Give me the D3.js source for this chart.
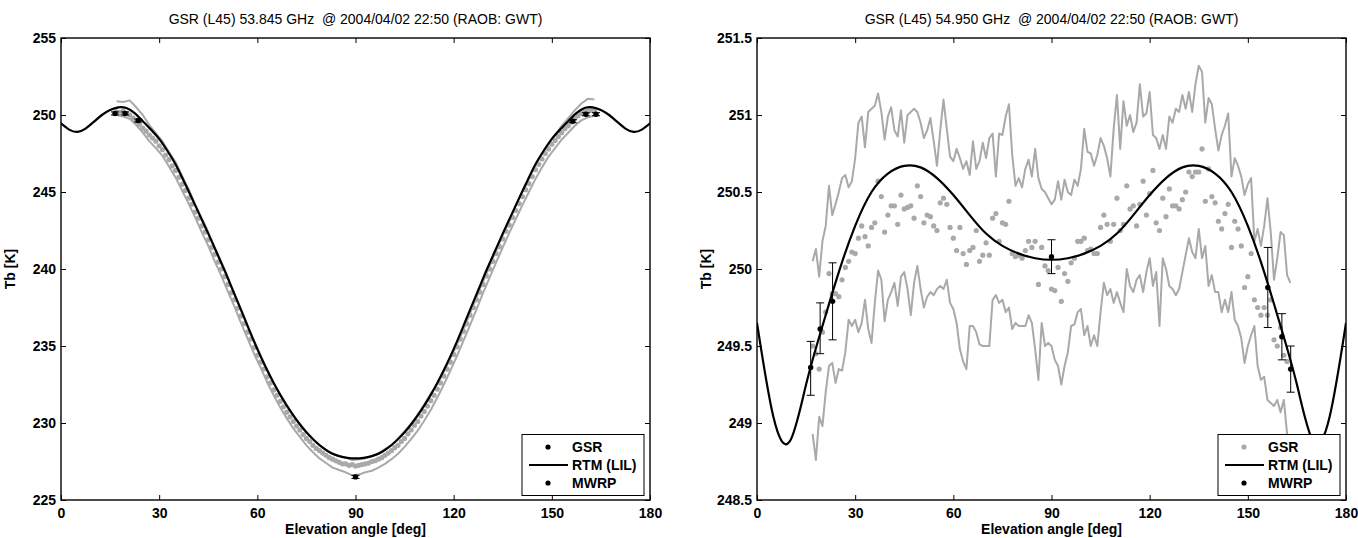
<!DOCTYPE html>
<html>
<head>
<meta charset="utf-8">
<script src="https://cdn.jsdelivr.net/npm/d3@7"></script>
<style>
  body { margin: 0; background: #fff; }
  svg text { font-family: "Liberation Sans", Arial, Helvetica, sans-serif; }
</style>
</head>
<body>
<svg id="fig" width="1358" height="538"></svg>
<script>
// ---- data ----
const leftTitle = "GSR (L45) 53.845 GHz  @ 2004/04/02 22:50 (RAOB: GWT)";
const rightTitle = "GSR (L45) 54.950 GHz  @ 2004/04/02 22:50 (RAOB: GWT)";

const xTicks = [0, 30, 60, 90, 120, 150, 180];
const leftYTicks = [225, 230, 235, 240, 245, 250, 255];
const rightYTicks = [248.5, 249, 249.5, 250, 250.5, 251, 251.5];

const gsrAngles = d3.range(17, 164);           // 1 deg scan steps
const leftEnvAngles = d3.range(17, 164, 2);
const leftRtmAngles = d3.range(0, 180.1, 2.5);
const rightRtmAngles = d3.range(0, 180.1, 5);

// left panel, 53.845 GHz
const leftRtm = [249.46, 249.05, 248.9, 249.12, 249.55, 250.0, 250.32, 250.5, 250.45, 250.12,
  249.6, 249.05, 248.45, 247.68, 246.8, 245.72, 244.6, 243.45, 242.3, 241.1,
  239.9, 238.62, 237.35, 236.05, 234.8, 233.65, 232.6, 231.65, 230.8, 230.05,
  229.4, 228.85, 228.4, 228.05, 227.85, 227.74, 227.7, 227.74, 227.85, 228.05,
  228.4, 228.85, 229.4, 230.05, 230.8, 231.65, 232.6, 233.65, 234.8, 236.05,
  237.35, 238.62, 239.9, 241.1, 242.3, 243.45, 244.6, 245.72, 246.8, 247.68,
  248.45, 249.05, 249.6, 250.12, 250.45, 250.5, 250.32, 250.0, 249.55, 249.12,
  248.9, 249.05, 249.46];

const leftGsr = [250.2, 250.15, 250.25, 250.1, 250.0, 249.8, 249.6, 249.4, 249.15, 248.95, 248.7, 248.5, 248.3, 248.0,
  247.75, 247.4, 247.1, 246.7, 246.4, 245.95, 245.5, 245.1, 244.6, 244.2, 243.7, 243.3, 242.8, 242.4, 241.9,
  241.4, 240.95, 240.45, 240.0, 239.5, 239.0, 238.45, 238.0, 237.45, 236.95, 236.45, 235.9, 235.45, 234.9, 234.4,
  233.95, 233.5, 233.0, 232.6, 232.15, 231.8, 231.4, 231.05, 230.7,
  230.4, 230.1, 229.8, 229.55, 229.25, 229.0, 228.8, 228.55, 228.35, 228.2, 228.05,
  227.9, 227.75, 227.65, 227.55, 227.45, 227.35, 227.35, 227.25, 227.3, 227.2,
  227.25, 227.3, 227.35, 227.4, 227.5, 227.55, 227.65, 227.75, 227.9,
  228.05, 228.2, 228.4, 228.55, 228.8, 229.0, 229.3, 229.55, 229.85, 230.1, 230.45,
  230.75, 231.1, 231.45, 231.8, 232.2, 232.6, 233.05, 233.5, 233.95, 234.45, 234.95, 235.45, 235.95, 236.45, 237.0,
  237.5, 238.0, 238.5, 239.0, 239.55, 240.0, 240.5, 241.0, 241.45, 241.95, 242.45, 242.85, 243.35, 243.8, 244.25,
  244.7, 245.15, 245.55, 246.0, 246.45, 246.8, 247.15, 247.5, 247.8, 248.1, 248.35, 248.6, 248.85, 249.1, 249.3,
  249.55, 249.75, 249.95, 250.1, 250.2, 250.25, 250.3, 250.25];

const leftUpper = [250.9, 250.85, 250.95, 250.5, 250.0, 249.35, 248.8, 248.3, 247.6, 246.95,
  246.05, 245.2, 244.2, 243.3, 242.4, 241.4, 240.45, 239.45, 238.4, 237.4,
  236.35, 235.35, 234.4, 233.45, 232.6, 231.85, 231.15, 230.5, 229.95, 229.4,
  228.95, 228.55, 228.25, 228.0, 227.85, 227.75, 227.6,
  227.65, 227.7, 227.85, 228.05, 228.3, 228.55, 229.0, 229.45, 229.95, 230.55,
  231.2, 231.9, 232.55, 233.35, 234.2, 235.1, 236.1, 237.1, 238.15, 239.2,
  240.2, 241.2, 242.2, 243.1, 244.1, 245.0, 245.85, 246.7, 247.45, 248.1,
  248.7, 249.3, 249.8, 250.3, 250.75, 251.05, 251.0];

const leftLower = [250.0, 249.9, 249.75, 249.35, 248.85, 248.3, 247.85, 247.35, 246.65, 245.95,
  245.1, 244.25, 243.35, 242.4, 241.5, 240.5, 239.55, 238.55, 237.55, 236.5,
  235.5, 234.5, 233.6, 232.65, 231.8, 231.0, 230.3, 229.65, 229.1, 228.55,
  228.1, 227.7, 227.4, 227.1, 226.95, 226.8, 226.6,
  226.65, 226.8, 226.9, 227.1, 227.35, 227.65, 228.0, 228.45, 228.95, 229.5,
  230.15, 230.85, 231.65, 232.5, 233.4, 234.35, 235.35, 236.35, 237.4, 238.45,
  239.45, 240.45, 241.4, 242.35, 243.25, 244.15, 245.0, 245.85, 246.6, 247.3,
  247.85, 248.4, 248.85, 249.3, 249.65, 249.85, 249.95];

const leftMwrpAngles = [16.5, 19.6, 23.6, 90, 156.4, 160.4, 163.5];
const leftMwrp = [250.1, 250.1, 249.64, 226.5, 249.6, 250.05, 250.05];
const leftMwrpLo = [250.0, 250.0, 249.54, 226.4, 249.5, 249.95, 249.95];
const leftMwrpHi = [250.2, 250.2, 249.74, 226.6, 249.7, 250.15, 250.15];

// right panel, 54.950 GHz
const rightRtm = [249.65, 249.04, 248.88, 249.25, 249.63, 249.98, 250.28, 250.5, 250.62, 250.67,
  250.66, 250.59, 250.48, 250.35, 250.23, 250.15, 250.1, 250.07, 250.06, 250.07,
  250.1, 250.15, 250.23, 250.35, 250.48, 250.59, 250.66, 250.67, 250.62, 250.5,
  250.28, 249.98, 249.63, 249.25, 248.88, 249.04, 249.65];

const rightUpper = [250.05, 250.13, 249.95, 250.18, 250.28, 250.54, 250.35, 250.42, 250.5, 250.59,
  250.61, 250.53, 250.57, 250.72, 250.95, 250.99, 250.79, 251.02, 251.04, 251.06,
  251.14, 251.02, 250.84, 250.99, 251.05, 250.9, 250.86, 251.03, 250.82, 251.0,
  251.02, 251.04, 251.02, 250.95, 250.85, 250.9, 250.98, 250.83, 250.67, 250.9,
  251.1, 250.91, 250.73, 250.7, 250.78, 250.72, 250.65, 250.7, 250.61, 250.83,
  250.65, 250.7, 250.82, 250.72, 250.85, 250.88, 250.6, 250.88, 250.87, 250.99,
  251.07, 250.74, 250.54, 250.59, 250.53, 250.65, 250.71, 250.6, 250.78, 250.59,
  250.52, 250.5, 250.46, 250.42, 250.45, 250.57, 250.45, 250.58, 250.5, 250.48,
  250.58, 250.54, 250.65, 250.91, 250.76, 250.75, 250.67, 250.74, 250.85, 250.8,
  250.72, 250.6, 250.91, 251.13, 250.78, 251.09, 250.93, 251.0, 250.89, 250.95,
  251.2, 250.99, 251.01, 251.15, 250.87, 250.85, 250.78, 250.87, 250.78, 250.99,
  250.95, 251.04, 251.02, 251.13, 251.04, 251.15, 251.02, 251.2, 251.32, 251.28,
  250.95, 251.11, 251.07, 250.91, 250.77, 250.87, 250.93, 251.01, 250.6, 250.72,
  250.67, 250.6, 250.48, 250.55, 250.59, 250.18, 250.26, 250.15, 250.28, 250.46,
  250.24, 249.93, 250.07, 250.24, 250.22, 249.96, 249.91];

const rightLower = [248.93, 248.76, 249.04, 248.98, 249.2, 249.37, 249.39, 249.26, 249.35, 249.34,
  249.46, 249.67, 249.63, 249.67, 249.59, 249.65, 249.8, 249.61, 249.52, 249.78,
  249.99, 249.93, 249.66, 249.8, 249.85, 249.91, 249.76, 249.95, 249.98, 249.87,
  249.7, 249.91, 250.02, 249.87, 249.75, 249.82, 249.85, 249.83, 249.87, 249.89,
  249.87, 249.93, 249.78, 249.74, 249.65, 249.48, 249.4, 249.35, 249.63, 249.63,
  249.59, 249.51, 249.5, 249.5, 249.5, 249.8, 249.83, 249.78, 249.8, 249.72,
  249.75, 249.61, 249.65, 249.63, 249.63, 249.63, 249.7, 249.65, 249.48, 249.28,
  249.65, 249.5, 249.52, 249.5, 249.41, 249.37, 249.25, 249.37, 249.46, 249.63,
  249.64, 249.72, 249.74, 249.57, 249.63, 249.5, 249.57, 249.5, 249.72, 249.91,
  249.83, 249.87, 249.78, 249.85, 249.78, 249.72, 250.0, 249.89, 249.85, 249.93,
  249.96, 249.85, 249.98, 250.07, 249.89, 249.98, 249.63, 250.07, 250.0, 249.89,
  249.87, 249.83, 249.87, 249.98, 250.09, 250.2, 250.11, 250.07, 250.26, 250.07,
  250.15, 249.89, 249.96, 249.85, 249.85, 249.72, 249.8, 249.72, 249.85, 249.67,
  249.63, 249.55, 249.39, 249.5, 249.57, 249.63, 249.37, 249.28, 249.3, 249.15,
  249.13, 249.11, 249.15, 249.07, 249.15, 248.93, 248.75];

const rightGsr = [249.5, 249.45, 249.35, 249.59, 249.72, 249.97, 249.84, 249.84, 249.82, 249.93,
  250.01, 250.05, 250.11, 250.1, 250.2, 250.28, 250.21, 250.15, 250.27, 250.3,
  250.57, 250.47, 250.24, 250.35, 250.41, 250.41, 250.29, 250.48, 250.39, 250.4,
  250.41, 250.33, 250.54, 250.47, 250.3, 250.35, 250.34, 250.28, 250.25, 250.43,
  250.46, 250.42, 250.27, 250.2, 250.12, 250.27, 250.1, 250.03, 250.12, 250.14,
  250.25, 250.05, 250.09, 250.17, 250.09, 250.33, 250.36, 250.18, 250.3, 250.29,
  250.44, 250.1, 250.08, 250.09, 250.07, 250.12, 250.18, 250.14, 250.18, 249.9,
  250.14, 250.02, 249.99, 249.87, 249.86, 250.01, 249.79, 249.97, 249.92, 250.04,
  250.07, 250.18, 250.18, 250.2, 250.12, 250.13, 250.1, 250.1, 250.27, 250.35,
  250.29, 250.18, 250.29, 250.46, 250.25, 250.29, 250.54, 250.39, 250.41, 250.28,
  250.42, 250.57, 250.35, 250.49, 250.64, 250.3, 250.25, 250.46, 250.34, 250.52,
  250.41, 250.41, 250.39, 250.45, 250.5, 250.63, 250.6, 250.63, 250.63, 250.78,
  250.44, 250.65, 250.47, 250.43, 250.31, 250.26, 250.36, 250.42, 250.14, 250.31,
  250.26, 250.15, 249.88, 249.95, 250.1, 249.8, 249.75, 249.7, 249.75, 249.7,
  249.8, 249.54, 249.5, 249.62, 249.44, 249.4, 249.35];

const rightMwrpAngles = [16.4, 19.3, 23.1, 90, 156.1, 160.4, 163.1];
const rightMwrp = [249.36, 249.61, 249.79, 250.08, 249.88, 249.56, 249.35];
const rightMwrpLo = [249.18, 249.45, 249.54, 249.97, 249.62, 249.41, 249.2];
const rightMwrpHi = [249.53, 249.78, 250.04, 250.19, 250.14, 249.71, 249.5];

// ---- drawing ----
const GRAY = "#a9a9a9";
const TOP = 38, BOTTOM = 500;
const svg = d3.select("#fig");

const panels = [
  { id: "l", left: 61, right: 650, title: leftTitle, yDomain: [225, 255], yTicks: leftYTicks,
    rtmAngles: leftRtmAngles, rtm: leftRtm, envAngles: leftEnvAngles, upper: leftUpper, lower: leftLower,
    gsr: leftGsr, mwrpAngles: leftMwrpAngles, mwrp: leftMwrp, lo: leftMwrpLo, hi: leftMwrpHi,
    gsrKey: "#000" },
  { id: "r", left: 757, right: 1346, title: rightTitle, yDomain: [248.5, 251.5], yTicks: rightYTicks,
    rtmAngles: rightRtmAngles, rtm: rightRtm, envAngles: gsrAngles, upper: rightUpper, lower: rightLower,
    gsr: rightGsr, mwrpAngles: rightMwrpAngles, mwrp: rightMwrp, lo: rightMwrpLo, hi: rightMwrpHi,
    gsrKey: GRAY }
];

const styleTicks = (sel) => {
  sel.select(".domain").remove();
  sel.selectAll(".tick line").attr("stroke", "#000").attr("stroke-width", 1);
  sel.selectAll(".tick text")
      .attr("fill", "#000")
      .attr("font-size", 14)
      .attr("font-weight", "bold")
      .attr("font-family", null);
};

const drawPanel = (p) => {
  const x = d3.scaleLinear().domain([0, 180]).range([p.left, p.right]),
        y = d3.scaleLinear().domain(p.yDomain).range([BOTTOM, TOP]);

  const g = svg.append("g").attr("class", "panel-" + p.id);

  g.append("clipPath")
      .attr("id", "clip-" + p.id)
    .append("rect")
      .attr("x", p.left).attr("y", TOP)
      .attr("width", p.right - p.left).attr("height", BOTTOM - TOP);

  const plot = g.append("g").attr("clip-path", `url(#clip-${p.id})`);

  const jagged = d3.line().x((d) => x(d[0])).y((d) => y(d[1])),
        smooth = d3.line().x((d) => x(d[0])).y((d) => y(d[1])).curve(d3.curveNatural);

  // GSR envelope lines
  [p.upper, p.lower].forEach((s) => {
    plot.append("path")
        .datum(d3.zip(p.envAngles, s))
        .attr("d", jagged)
        .attr("fill", "none")
        .attr("stroke", GRAY)
        .attr("stroke-width", 2)
        .attr("stroke-linejoin", "round");
  });

  // GSR points
  plot.append("g")
    .selectAll("circle")
    .data(d3.zip(gsrAngles, p.gsr))
    .join("circle")
      .attr("cx", (d) => x(d[0]))
      .attr("cy", (d) => y(d[1]))
      .attr("r", 2.6)
      .attr("fill", GRAY);

  // RTM (LIL)
  plot.append("path")
      .datum(d3.zip(p.rtmAngles, p.rtm))
      .attr("d", smooth)
      .attr("fill", "none")
      .attr("stroke", "#000")
      .attr("stroke-width", 2.2);

  // MWRP with error bars
  const mw = plot.append("g")
    .selectAll("g")
    .data(p.mwrpAngles.map((a, i) => ({ a, v: p.mwrp[i], lo: p.lo[i], hi: p.hi[i] })))
    .join("g");
  mw.append("line")
      .attr("x1", (d) => x(d.a)).attr("x2", (d) => x(d.a))
      .attr("y1", (d) => y(d.lo)).attr("y2", (d) => y(d.hi));
  mw.append("line")
      .attr("x1", (d) => x(d.a) - 4).attr("x2", (d) => x(d.a) + 4)
      .attr("y1", (d) => y(d.lo)).attr("y2", (d) => y(d.lo));
  mw.append("line")
      .attr("x1", (d) => x(d.a) - 4).attr("x2", (d) => x(d.a) + 4)
      .attr("y1", (d) => y(d.hi)).attr("y2", (d) => y(d.hi));
  mw.selectAll("line").attr("stroke", "#000").attr("stroke-width", 1);
  mw.append("circle")
      .attr("cx", (d) => x(d.a))
      .attr("cy", (d) => y(d.v))
      .attr("r", 2.7)
      .attr("fill", "#000");

  // axes, ticks pointing inwards on all four sides
  g.append("g")
      .attr("transform", `translate(0,${BOTTOM})`)
      .call(d3.axisBottom(x).tickValues(xTicks).tickSizeInner(-5).tickSizeOuter(0).tickPadding(8))
      .call(styleTicks);
  g.append("g")
      .attr("transform", `translate(0,${TOP})`)
      .call(d3.axisTop(x).tickValues(xTicks).tickSizeInner(-5).tickSizeOuter(0).tickFormat(""))
      .call(styleTicks);
  g.append("g")
      .attr("transform", `translate(${p.left},0)`)
      .call(d3.axisLeft(y).tickValues(p.yTicks).tickSizeInner(-5).tickSizeOuter(0).tickPadding(5).tickFormat((d) => d))
      .call(styleTicks);
  g.append("g")
      .attr("transform", `translate(${p.right},0)`)
      .call(d3.axisRight(y).tickValues(p.yTicks).tickSizeInner(-5).tickSizeOuter(0).tickFormat(""))
      .call(styleTicks);

  g.append("rect")
      .attr("x", p.left).attr("y", TOP)
      .attr("width", p.right - p.left).attr("height", BOTTOM - TOP)
      .attr("fill", "none")
      .attr("stroke", "#000")
      .attr("stroke-width", 1.4);

  // labels
  g.append("text")
      .attr("x", (p.left + p.right) / 2)
      .attr("y", 24)
      .attr("text-anchor", "middle")
      .attr("font-size", 14)
      .style("white-space", "pre")
      .text(p.title);
  g.append("text")
      .attr("x", (p.left + p.right) / 2)
      .attr("y", 534)
      .attr("text-anchor", "middle")
      .attr("font-size", 14)
      .attr("font-weight", "bold")
      .text("Elevation angle [deg]");
  g.append("text")
      .attr("transform", `translate(${p.left - 46},${(TOP + BOTTOM) / 2}) rotate(-90)`)
      .attr("text-anchor", "middle")
      .attr("font-size", 14)
      .attr("font-weight", "bold")
      .text("Tb [K]");

  // legend
  const lw = 122, lh = 61,
        lx = p.right - 6 - lw, ly = BOTTOM - 4.5 - lh;
  const legend = g.append("g").attr("class", "legend");
  legend.append("rect")
      .attr("x", lx).attr("y", ly)
      .attr("width", lw).attr("height", lh)
      .attr("fill", "#fff")
      .attr("stroke", "#000")
      .attr("stroke-width", 1);

  const keys = [
    { label: "GSR", kind: "dot", color: p.gsrKey },
    { label: "RTM (LIL)", kind: "line", color: "#000" },
    { label: "MWRP", kind: "dot", color: "#000" }
  ];
  keys.forEach((k, i) => {
    const cy = ly + 12.5 + i * 18;
    if (k.kind === "dot") {
      legend.append("circle")
          .attr("cx", lx + 26).attr("cy", cy).attr("r", 2.6)
          .attr("fill", k.color);
    } else {
      legend.append("line")
          .attr("x1", lx + 7).attr("x2", lx + 46)
          .attr("y1", cy).attr("y2", cy)
          .attr("stroke", k.color)
          .attr("stroke-width", 2.2);
    }
    legend.append("text")
        .attr("x", lx + 50)
        .attr("y", cy + 5)
        .attr("font-size", 14)
        .attr("font-weight", "bold")
        .text(k.label);
  });
};

panels.forEach(drawPanel);
</script>
</body>
</html>
